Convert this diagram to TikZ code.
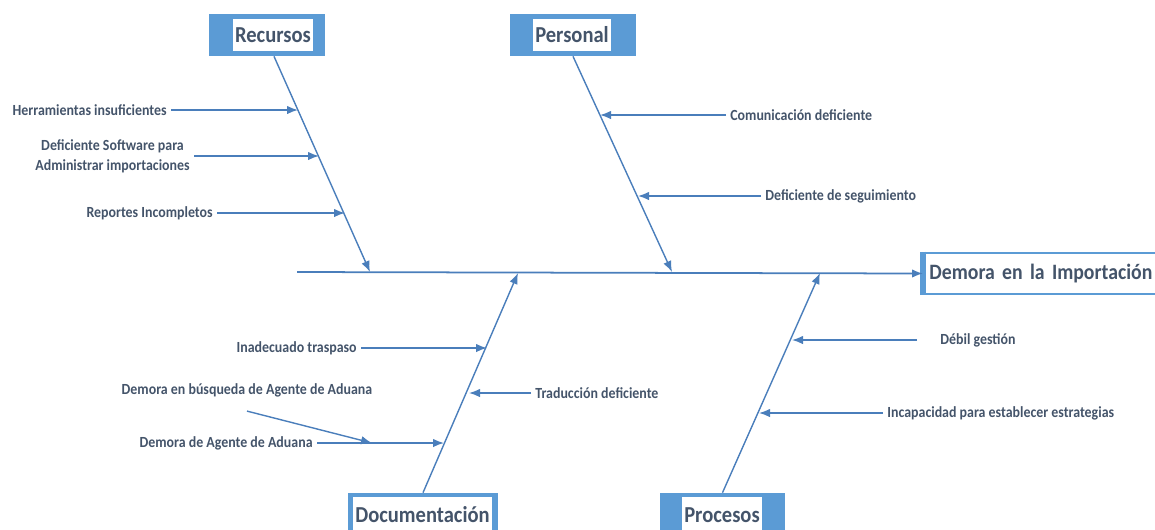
\documentclass[tikz,border=0pt]{standalone}
\usepackage{fontspec}
\setmainfont{Carlito}[FakeStretch=0.9]
\usepackage{tikz}
\usetikzlibrary{arrows.meta}
\definecolor{bone}{HTML}{4A7EBB}
\definecolor{boxblue}{HTML}{5B9BD5}
\definecolor{txtgray}{HTML}{44546A}
\tikzset{cause/.style={text=txtgray,font=\bfseries\fontsize{8.8}{11.3}\selectfont,inner sep=0.08cm},
  catout/.style={fill=boxblue,minimum width=#1,minimum height=0.84cm,inner sep=0},
  cattxt/.style={fill=white,text=txtgray,font=\bfseries\fontsize{13}{15}\selectfont,minimum width=#1,minimum height=0.64cm,inner sep=0},
  effect/.style={draw=boxblue,line width=1.6pt,fill=white,text=txtgray,font=\bfseries\fontsize{12.5}{15}\selectfont,minimum height=0.82cm,text width=4.8cm,align=left,inner xsep=0.1cm},
  rib/.style={->,bone,line width=0.8pt}}

\begin{document}
\begin{tikzpicture}[x=0.02cm,y=-0.02cm,>={Latex[length=2.2mm,width=1.7mm]}]
    \useasboundingbox (0,0) rectangle (1155,529);

    \node[catout=2.32cm] (rec) at (267,35) {};
    \node[cattxt=1.6cm] (rect) at (273,35) {Recursos};
    \node[catout=2.52cm] (per) at (573,35) {};
    \node[cattxt=1.56cm] (pert) at (572,35) {Personal};
    \node[catout=3.0cm] (doc) at (423,514) {};
    \node[cattxt=2.78cm,minimum height=0.72cm] (doct) at (422.5,515) {Documentación};
    \node[catout=2.5cm] (pro) at (722.5,514) {};
    \node[cattxt=1.6cm,minimum height=0.72cm] (prot) at (722,515) {Procesos};
    \node[effect,anchor=west] (eff) at (923,273.5) {Demora en la Importación};
    \draw[boxblue,line width=3pt] (eff.north west) -- (eff.south west);

    \coordinate (tail) at (297,272);
    \draw[->,bone,line width=1pt] (tail) -- (eff.west);

    \coordinate (rs) at (370,272);
    \coordinate (ps) at (672,272);
    \coordinate (ds) at (518,273);
    \coordinate (cs) at (820,273);
    \draw[rib] ([xshift=0.14cm]rec.south) -- (rs);
    \draw[rib] (per.south) -- (ps);
    \draw[rib] (doc.north) -- (ds);
    \draw[rib] (pro.north) -- (cs);

    \node[cause,anchor=east] (h1) at (171,110) {Herramientas insuficientes};
    \node[cause,anchor=east,align=center] (h2) at (194,156) {Deficiente Software para\\Administrar importaciones};
    \node[cause,anchor=east] (h3) at (217,213) {Reportes Incompletos};
    \coordinate (r1) at (298,110);
    \coordinate (r2) at (319,156);
    \coordinate (r3) at (345,213);
    \draw[rib] (h1.east) -- (r1);
    \draw[rib] (h2.east) -- (r2);
    \draw[rib] (h3.east) -- (r3);

    \node[cause,anchor=west] (p1) at (726,115) {Comunicación deficiente};
    \node[cause,anchor=west] (p2) at (761,196) {Deficiente de seguimiento};
    \coordinate (q1) at (600,115);
    \coordinate (q2) at (638,196);
    \draw[rib] (p1.west) -- (q1);
    \draw[rib] (p2.west) -- (q2);

    \node[cause,anchor=east] (d1) at (361,348) {Inadecuado traspaso};
    \node[cause] (d2) at (247,390) {Demora en búsqueda de Agente de Aduana};
    \node[cause,anchor=east] (d3) at (317,443) {Demora de Agente de Aduana};
    \node[cause,anchor=west] (d4) at (531,393) {Traducción deficiente};
    \coordinate (e1) at (487,348);
    \coordinate (e2) at (372,443);
    \coordinate (e3) at (444,443);
    \coordinate (e4) at (469,393);
    \draw[rib] (d1.east) -- (e1);
    \draw[rib] ([yshift=-0.2cm]d2.south) -- (e2);
    \draw[rib] (d3.east) -- (e3);
    \draw[rib] (d4.west) -- (e4);

    \node[cause,anchor=west] (c1) at (936,340) {Débil gestión};
    \node[cause,anchor=west] (c2) at (883,413) {Incapacidad para establecer estrategias};
    \coordinate (f1) at (792,340);
    \coordinate (f2) at (759,413);
    \draw[rib,shorten <=0.38cm] (c1.west) -- (f1);
    \draw[rib] (c2.west) -- (f2);
\end{tikzpicture}
\end{document}
